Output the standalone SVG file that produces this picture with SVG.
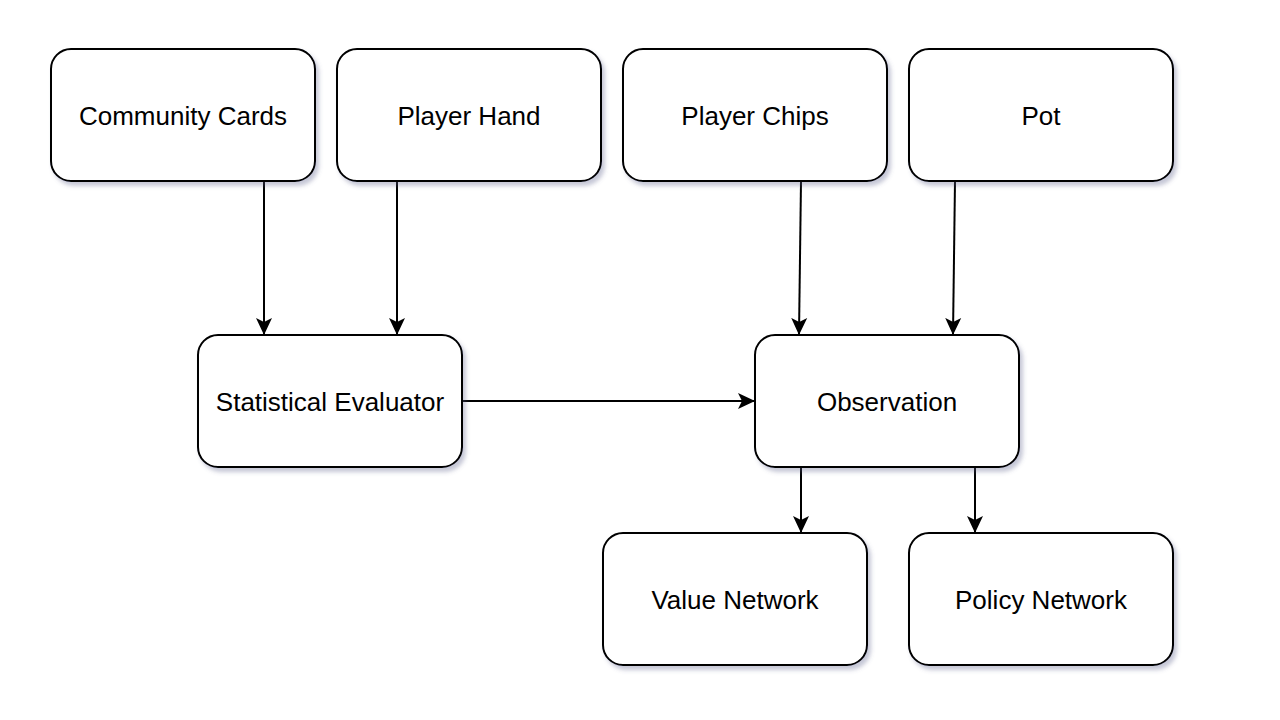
<svg xmlns="http://www.w3.org/2000/svg" width="1280" height="720" viewBox="0 0 1280 720">
<defs>
<filter id="sh" x="-10%" y="-10%" width="125%" height="130%">
<feGaussianBlur in="SourceAlpha" stdDeviation="2"/>
<feOffset dx="3" dy="4" result="b"/>
<feFlood flood-color="#5a5f8a" flood-opacity="0.35"/>
<feComposite in2="b" operator="in"/>
<feMerge><feMergeNode/><feMergeNode in="SourceGraphic"/></feMerge>
</filter>
<marker id="ar" markerWidth="18" markerHeight="18" refX="16" refY="9" orient="auto" markerUnits="userSpaceOnUse">
<path d="M0,1 L17,9 L0,17 L4,9 Z" fill="#000"/>
</marker>
<style>
.n rect{fill:#fff;stroke:#000;stroke-width:2;filter:url(#sh)}
.n text{font-family:"Liberation Sans",Arial,sans-serif;font-size:26px;fill:#000;text-anchor:middle}
.e path{fill:none;stroke:#000;stroke-width:2;marker-end:url(#ar)}
</style>
</defs>
<rect width="1280" height="720" fill="#fff"/>
<g class="e" id="connectors">
<path d="M264,181 L264,334"/>
<path d="M397,181 L397,334"/>
<path d="M801,181 L799,334"/>
<path d="M955,181 L953,334"/>
<path d="M462,401 L754,401"/>
<path d="M801,467 L801,532"/>
<path d="M975,467 L975,532"/>
</g>
<g class="n" id="community-cards"><rect x="51" y="49" width="264" height="132" rx="20"/><text x="183" y="125">Community Cards</text></g>
<g class="n" id="player-hand"><rect x="337" y="49" width="264" height="132" rx="20"/><text x="469" y="125">Player Hand</text></g>
<g class="n" id="player-chips"><rect x="623" y="49" width="264" height="132" rx="20"/><text x="755" y="125">Player Chips</text></g>
<g class="n" id="pot"><rect x="909" y="49" width="264" height="132" rx="20"/><text x="1041" y="125">Pot</text></g>
<g class="n" id="statistical-evaluator"><rect x="198" y="335" width="264" height="132" rx="20"/><text x="330" y="411">Statistical Evaluator</text></g>
<g class="n" id="observation"><rect x="755" y="335" width="264" height="132" rx="20"/><text x="887" y="411">Observation</text></g>
<g class="n" id="value-network"><rect x="603" y="533" width="264" height="132" rx="20"/><text x="735" y="609">Value Network</text></g>
<g class="n" id="policy-network"><rect x="909" y="533" width="264" height="132" rx="20"/><text x="1041" y="609">Policy Network</text></g>
</svg>
